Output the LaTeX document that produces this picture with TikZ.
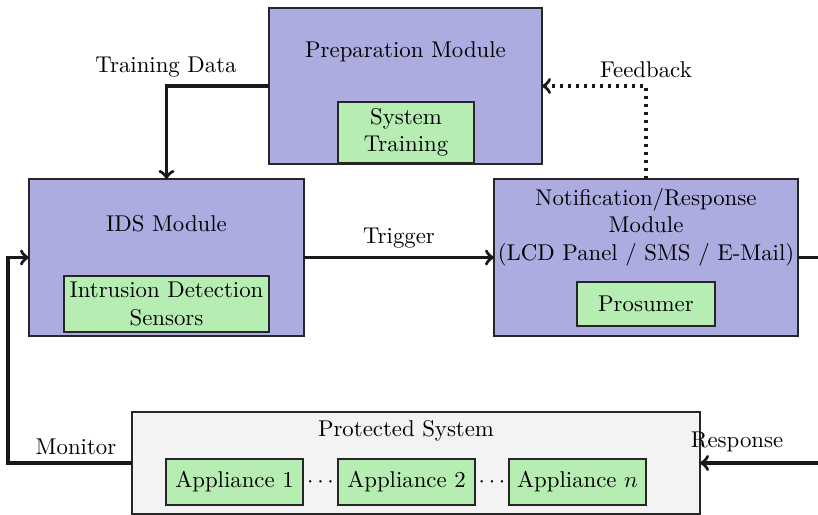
\documentclass[tikz,border=0pt]{standalone}
\usetikzlibrary{calc}
\definecolor{modfill}{RGB}{173,172,225}
\definecolor{partfill}{RGB}{182,237,178}
\definecolor{sysfill}{RGB}{243,243,243}
\newlength\upx
\setlength\upx{0.01541cm}
\begin{document}
\begin{tikzpicture}[x=\upx,y=-\upx,
  box/.style 2 args={draw=black!85, line width=0.9pt, inner sep=0pt, outer sep=0pt,
    minimum width=#1*\upx, minimum height=#2*\upx, align=center},
  module/.style 2 args={box={#1}{#2}, fill=modfill},
  part/.style 2 args={box={#1}{#2}, fill=partfill},
  system/.style 2 args={box={#1}{#2}, fill=sysfill},
  txt/.style={inner sep=0pt, align=center},
  link/.style={line width=1.5pt, black!90, ->},
  every node/.style={font=\normalsize}]
\useasboundingbox (0,0) rectangle (818,515);

% modules
\node[module={273}{156}] (prep) at (405.5,86) {};
\node[txt] (preptitle) at (405.5,52) {Preparation Module};
\node[part={136}{61}] (train) at (406,132.5) {System\\Training};

\node[module={275}{157}] (ids) at (166.5,257.5) {};
\node[txt] (idstitle) at (166.5,224) {IDS Module};
\node[part={205}{56}] (sensors) at (166.5,304) {Intrusion Detection\\Sensors};

\node[module={304}{157}] (notif) at (646,257.5) {};
\node[txt] (notiftitle) at (646,227) {Notification/Response\\Module\\(LCD Panel / SMS / E-Mail)};
\node[part={138}{44}] (prosumer) at (646,304) {Prosumer};

% protected system with its appliances
\node[system={568}{102}] (prot) at (416,463) {};
\node[txt] (prottitle) at (406,431) {Protected System};
\node[part={137}{46}] (app1) at (234.5,482) {Appliance 1};
\node[part={137}{46}] (app2) at (406.5,482) {Appliance 2};
\node[part={137}{46}] (appn) at (577.5,482) {Appliance $n$};
\node[txt] (dots1) at (320.5,482) {$\cdots$};
\node[txt] (dots2) at (492,482) {$\cdots$};

% connectors
\coordinate (monc) at (8,257.5);
\coordinate (resc) at (840,257.5);

\draw[link] (prep.west) -| (ids.north);
\draw[link, dotted] (notif.north) |- (prep.east);
\draw[link] (ids.east) -- (notif.west);
\draw[link] (prot.west) -| (monc) -- (ids.west);
\draw[link] (notif.east) -- (resc) |- (prot.east);

% connector labels
\node[txt] (ltrain) at (166,67) {Training Data};
\node[txt] (lfeed) at (646,70) {Feedback};
\node[txt] (ltrig) at (399,238) {Trigger};
\node[txt] (lmon) at (76,447) {Monitor};
\node[txt] (lresp) at (737,442) {Response};
\end{tikzpicture}
\end{document}
